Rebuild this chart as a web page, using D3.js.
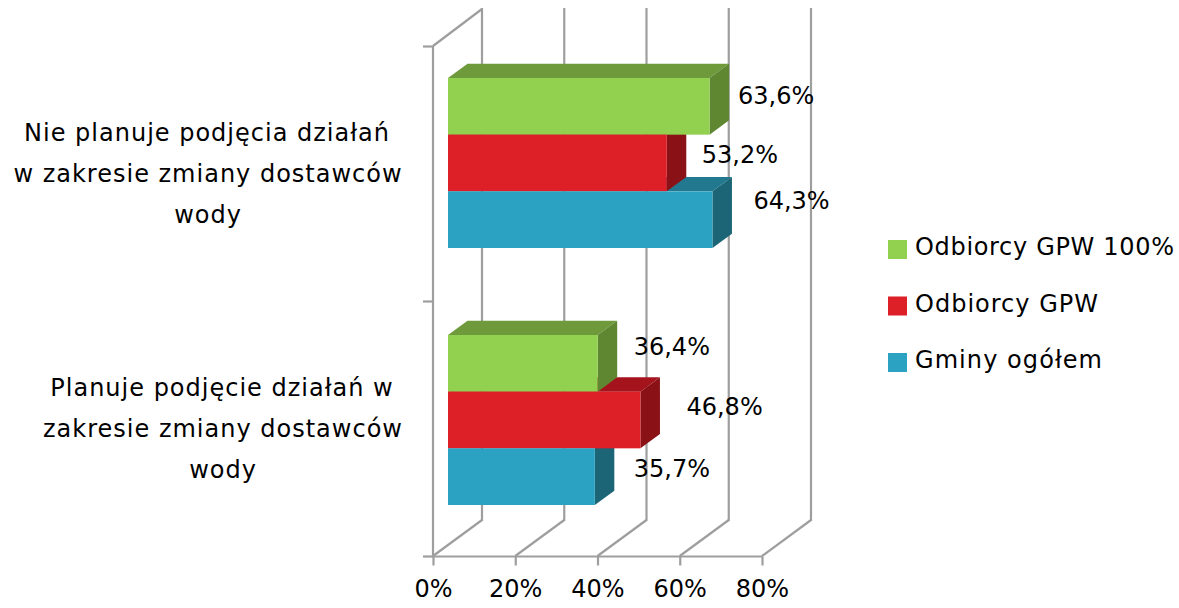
<!DOCTYPE html>
<html>
<head>
<meta charset="utf-8">
<script src="https://cdn.jsdelivr.net/npm/d3@7"></script>
<style>
  html, body { margin: 0; padding: 0; background: #fff; }
  text { font-family: "DejaVu Sans", sans-serif; font-size: 24px; fill: #000; }
  .grid { stroke: #9e9e9e; stroke-width: 2.2; fill: none; }
  .axis path, .axis line { stroke: #9e9e9e; stroke-width: 2.2; }
</style>
</head>
<body>
<div id="chart"></div>
<script>
var categories = ['Nie planuje', 'Planuje'];
var categoryLines = [
  ['Nie planuje podjęcia działań', 'w zakresie zmiany dostawców', 'wody'],
  ['Planuje podjęcie działań w', 'zakresie zmiany dostawców', 'wody']
];
var seriesNames = ['Odbiorcy GPW 100%', 'Odbiorcy GPW', 'Gminy ogółem'];
var green = [63.6, 36.4];
var red = [53.2, 46.8];
var blue = [64.3, 35.7];
var xTicks = [0, 20, 40, 60, 80];

var seriesValues = [green, red, blue];
var fronts = ['#92d050', '#dd1f28', '#2ba2c1'];
var tops = ['#6f9a3c', '#a5141c', '#22788f'];
var sides = ['#5f8631', '#8a1216', '#1c6576'];

// hand placed data labels, same order as the series: [dx, dy] from the bar end
var labelNudge = [
  [[9, -11], [16.5, -17]],
  [[15.5, -9], [26.5, -14]],
  [[21.5, -19], [19.5, -8]]
];
var labelCentres = [[207, 222], [208, 223], [208, 223]];
var legendWidths = [259, 183, 187];

var width = 1179, height = 608;
var svg = d3.select('#chart').append('svg')
  .attr('width', width)
  .attr('height', height)
  .style('display', 'block');

var x = d3.scaleLinear().domain([0, 80]).range([433, 762]);
// bars sit on a slightly wider band than the axis ticks
var y = d3.scaleBand().domain(categories).range([46, 556]);
var yBars = d3.scaleBand().domain(categories).range([34.5, 548.5]);
var sub = d3.scaleBand().domain(seriesNames).range([0, 170]);

// depth of the fake 3d box and of the bars inside it
var wall = { dx: 49, dy: -36 };
var depth = { dx: 19.5, dy: -14.3 };
var barX0 = 15;
var groupShift = (yBars.bandwidth() - 170) / 2;

// back wall and floor
var walls = svg.append('g');
walls.selectAll('.back').data(xTicks).enter().append('line')
  .attr('class', 'grid back')
  .attr('x1', d => x(d) + wall.dx).attr('x2', d => x(d) + wall.dx)
  .attr('y1', 46 + wall.dy - 2).attr('y2', 556 + wall.dy + 1);
walls.selectAll('.floor').data(xTicks).enter().append('line')
  .attr('class', 'grid floor')
  .attr('x1', d => x(d)).attr('x2', d => x(d) + wall.dx)
  .attr('y1', 556).attr('y2', 556 + wall.dy);
walls.append('line').attr('class', 'grid')
  .attr('x1', x(0)).attr('x2', x(0) + wall.dx)
  .attr('y1', 46).attr('y2', 46 + wall.dy - 1);

// axes
var xAxis = d3.axisBottom(x).tickValues(xTicks).tickFormat(d => d + '%').tickSize(9).tickPadding(14);
var gx = svg.append('g').attr('class', 'axis').attr('transform', 'translate(0,556.5)').call(xAxis);
gx.select('.domain').attr('d', `M${x(0)},0H${x(80)}`);
gx.selectAll('text').style('font-size', '24px').style('font-family', '"DejaVu Sans", sans-serif');

var yAxis = d3.axisLeft(d3.scaleLinear().domain([0, 2]).range([556, 46])).ticks(2).tickSize(10).tickFormat('');
var gy = svg.append('g').attr('class', 'axis').attr('transform', `translate(${x(0)},0)`).call(yAxis);
gy.select('.domain').attr('d', 'M0,46V556');

// flat list of bars
var bars = [];
seriesNames.forEach(function (name, s) {
  categories.forEach(function (cat, c) {
    var value = seriesValues[s][c];
    var y0 = yBars(cat) + groupShift + sub(name);
    bars.push({
      s: s, c: c, value: value,
      x0: x(0) + barX0,
      x1: x(value) + barX0,
      y0: y0,
      y1: y0 + sub.bandwidth()
    });
  });
});

// tops and sides go under all the front faces
svg.append('g').selectAll('path').data(bars).enter().append('path')
  .attr('fill', d => tops[d.s])
  .attr('d', d => `M${d.x0},${d.y0}L${d.x1},${d.y0}l${depth.dx},${depth.dy}L${d.x0 + depth.dx},${d.y0 + depth.dy}Z`);
svg.append('g').selectAll('path').data(bars).enter().append('path')
  .attr('fill', d => sides[d.s])
  .attr('d', d => `M${d.x1},${d.y0}l${depth.dx},${depth.dy}V${d.y1 + depth.dy}L${d.x1},${d.y1}Z`);
svg.append('g').selectAll('rect').data(bars).enter().append('rect')
  .attr('x', d => d.x0)
  .attr('y', d => d.y0)
  .attr('width', d => d.x1 - d.x0)
  .attr('height', d => d.y1 - d.y0)
  .attr('fill', d => fronts[d.s]);

// data labels
svg.append('g').selectAll('text').data(bars).enter().append('text')
  .attr('x', d => d.x1 + depth.dx + labelNudge[d.s][d.c][0])
  .attr('y', d => (d.y0 + d.y1) / 2 + labelNudge[d.s][d.c][1])
  .attr('dy', '0.36em')
  .text(d => d.value.toFixed(1).replace('.', ',') + '%');

// category labels, three centred lines each
categories.forEach(function (cat, c) {
  svg.append('g').selectAll('text').data(categoryLines[c]).enter().append('text')
    .attr('x', (d, i) => labelCentres[i][c])
    .attr('y', (d, i) => y(cat) + y.bandwidth() / 2 + (i - 1) * 41 + 8)
    .attr('text-anchor', 'middle')
    .style('letter-spacing', '1px')
    .text(d => d);
});

// legend
var legend = svg.append('g').selectAll('g').data(seriesNames).enter().append('g')
  .attr('transform', (d, i) => `translate(888,${240 + i * 56.5})`);
legend.append('rect').attr('width', 19).attr('height', 19).attr('fill', (d, i) => fronts[i]);
legend.append('text').attr('x', 27).attr('y', 15)
  .attr('textLength', (d, i) => legendWidths[i])
  .text(d => d);
</script>
</body>
</html>
